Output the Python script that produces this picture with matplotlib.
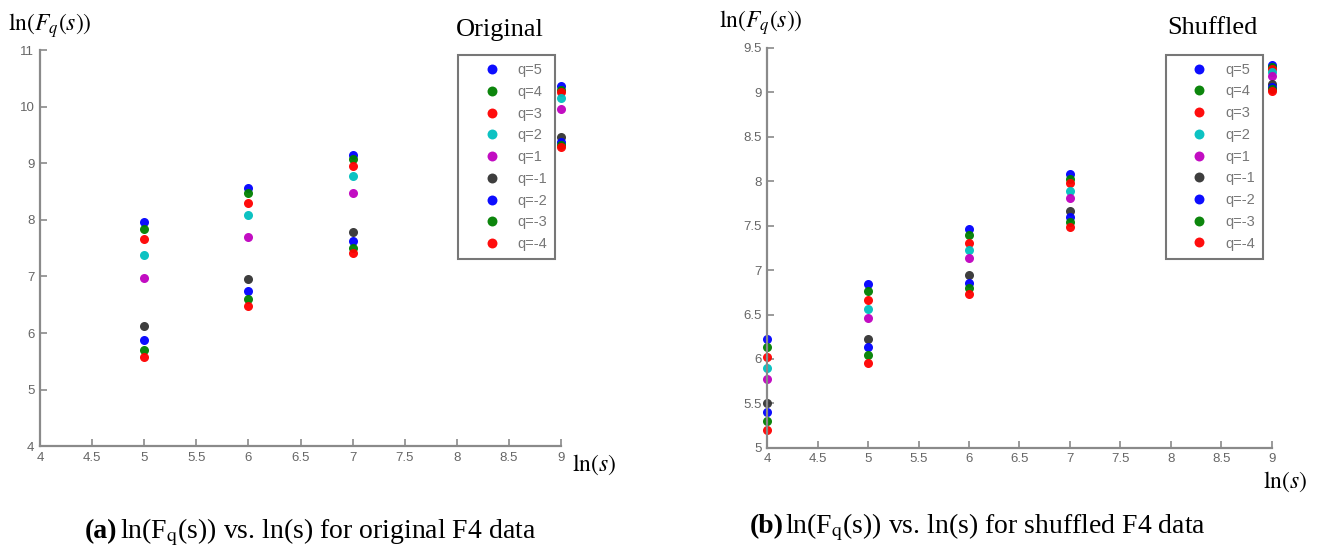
import numpy as np
import matplotlib
matplotlib.use('Agg')
import matplotlib.pyplot as plt

plt.rcParams['mathtext.fontset'] = 'stix'

ln_s = [4, 5, 6, 7, 9]
q_labels = ['q=5', 'q=4', 'q=3', 'q=2', 'q=1', 'q=-1', 'q=-2', 'q=-3', 'q=-4']
q_colors = ['#0000ff', '#008000', '#ff0000', '#00bfbf', '#bf00bf', '#333333',
            '#0000ff', '#008000', '#ff0000']

# original series: no value at ln(s)=4
orig_x = [5, 6, 7, 9]
orig_q5 = [7.97, 8.57, 9.15, 10.36]
orig_q4 = [7.83, 8.47, 9.08, 10.30]
orig_q3 = [7.67, 8.30, 8.96, 10.26]
orig_q2 = [7.38, 8.08, 8.78, 10.15]
orig_q1 = [6.98, 7.70, 8.47, 9.96]
orig_qm1 = [6.12, 6.96, 7.79, 9.47]
orig_qm2 = [5.88, 6.75, 7.62, 9.38]
orig_qm3 = [5.70, 6.60, 7.50, 9.33]
orig_qm4 = [5.57, 6.48, 7.42, 9.28]

shuf_x = ln_s
shuf_q5 = [6.22, 6.84, 7.46, 8.08, 9.31]
shuf_q4 = [6.13, 6.76, 7.40, 8.02, 9.29]
shuf_q3 = [6.02, 6.66, 7.31, 7.98, 9.26]
shuf_q2 = [5.90, 6.56, 7.23, 7.89, 9.23]
shuf_q1 = [5.78, 6.46, 7.14, 7.81, 9.18]
shuf_qm1 = [5.50, 6.23, 6.95, 7.66, 9.09]
shuf_qm2 = [5.40, 6.13, 6.86, 7.60, 9.06]
shuf_qm3 = [5.30, 6.05, 6.80, 7.54, 9.04]
shuf_qm4 = [5.20, 5.96, 6.73, 7.49, 9.01]

orig_series = [orig_q5, orig_q4, orig_q3, orig_q2, orig_q1,
               orig_qm1, orig_qm2, orig_qm3, orig_qm4]
shuf_series = [shuf_q5, shuf_q4, shuf_q3, shuf_q2, shuf_q1,
               shuf_qm1, shuf_qm2, shuf_qm3, shuf_qm4]

x_ticks = [4, 4.5, 5, 5.5, 6, 6.5, 7, 7.5, 8, 8.5, 9]
orig_yticks = [4, 5, 6, 7, 8, 9, 10, 11]
shuf_yticks = [5, 5.5, 6, 6.5, 7, 7.5, 8, 8.5, 9, 9.5]

tick_font = ['Liberation Sans', 'DejaVu Sans']
serif_font = ['Liberation Serif', 'DejaVu Serif']
axis_grey = '#8a8a8a'


def fmt(v):
    return ('%g' % v)


def draw_panel(ax, xs, series, yticks, ylim, title, leg_anchor):
    for vals, col, lab in zip(series, q_colors, q_labels):
        ax.plot(xs, vals, 'o', color=col, markersize=6.5, label=lab,
                markeredgewidth=0, alpha=0.95)
    ax.set_xlim(4, 9)
    ax.set_ylim(*ylim)
    ax.set_xticks(x_ticks)
    ax.set_xticklabels([fmt(v) for v in x_ticks])
    ax.set_yticks(yticks)
    ax.set_yticklabels([fmt(v) for v in yticks])
    for side in ['top', 'right']:
        ax.spines[side].set_visible(False)
    for side in ['left', 'bottom']:
        ax.spines[side].set_color(axis_grey)
        ax.spines[side].set_linewidth(1.6)
    ax.tick_params(direction='in', length=5, width=1.2, color=axis_grey,
                   labelcolor='#666666', labelsize=9.5, pad=4)
    for t in ax.get_xticklabels() + ax.get_yticklabels():
        t.set_family(tick_font)
    ax.patch.set_alpha(0)
    for ln in ax.lines:
        ln.set_clip_on(False)

    leg = ax.legend(loc='upper right', bbox_to_anchor=leg_anchor,
                    prop={'family': tick_font, 'size': 10.5}, frameon=True,
                    fancybox=False, handletextpad=0.0, labelspacing=0.53,
                    borderpad=0.55, markerfirst=True, handlelength=3.5,
                    borderaxespad=0, numpoints=1, markerscale=1.1)
    leg.get_frame().set_edgecolor('#555555')
    leg.get_frame().set_linewidth(1.5)
    for t in leg.get_texts():
        t.set_color('#777777')
    ax.text(0.883, 1.05, title, transform=ax.transAxes, ha='center',
            va='center', fontsize=19, family=serif_font)


fig = plt.figure(figsize=(13.18, 5.57), dpi=100)
ax1 = fig.add_axes([0.0303, 0.199, 0.3954, 0.711])
ax2 = fig.add_axes([0.582, 0.196, 0.383, 0.718])

draw_panel(ax1, orig_x, orig_series, orig_yticks, (4, 11), 'Original',
           (0.9885, 0.987))
draw_panel(ax2, shuf_x, shuf_series, shuf_yticks, (5, 9.5), 'Shuffled',
           (0.982, 0.983))

ax1.text(-0.062, 1.063, r'$\mathrm{ln}(F_q(s))$', transform=ax1.transAxes,
         ha='left', va='center', fontsize=17)
ax2.text(-0.095, 1.063, r'$\mathrm{ln}(F_q(s))$', transform=ax2.transAxes,
         ha='left', va='center', fontsize=17)
ax1.text(1.063, -0.048, r'$\mathrm{ln}(s)$', transform=ax1.transAxes,
         ha='center', va='center', fontsize=17)
ax2.text(1.026, -0.085, r'$\mathrm{ln}(s)$', transform=ax2.transAxes,
         ha='center', va='center', fontsize=17)

fig.text(85 / 1318, 0.034, '(a)', fontsize=20, weight='bold',
         family=serif_font, ha='left', va='baseline')
fig.text(120 / 1318, 0.034,
         r'ln(F$_\mathrm{q}$(s)) vs. ln(s) for original F4 data',
         fontsize=20, family=serif_font, ha='left', va='baseline')
fig.text(750 / 1318, 0.043, '(b)', fontsize=20, weight='bold',
         family=serif_font, ha='left', va='baseline')
fig.text(785 / 1318, 0.043,
         r'ln(F$_\mathrm{q}$(s)) vs. ln(s) for shuffled F4 data',
         fontsize=20, family=serif_font, ha='left', va='baseline')

fig.savefig('out.png', dpi=100)
